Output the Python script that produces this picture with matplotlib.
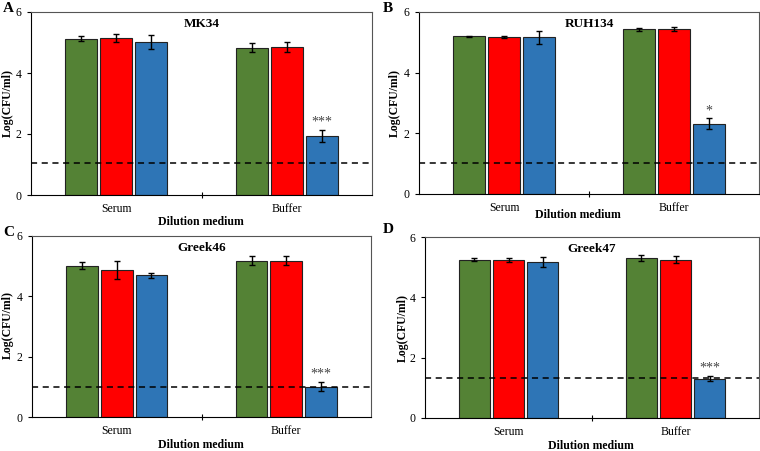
import matplotlib
matplotlib.use("Agg")
import matplotlib.pyplot as plt
import numpy as np

plt.rcParams['font.family'] = ['Liberation Serif', 'DejaVu Serif']

categories = ["Serum", "Buffer"]
series_colors = ["#548235", "#FF0000", "#2E75B6"]

panels = ["A", "B", "C", "D"]
titles = ["MK34", "RUH134", "Greek46", "Greek47"]
# values[panel][series][category]
values = {
    "A": [[5.12, 4.83], [5.14, 4.85], [5.02, 1.93]],
    "B": [[5.20, 5.43], [5.17, 5.43], [5.17, 2.32]],
    "C": [[5.02, 5.18], [4.88, 5.18], [4.70, 1.00]],
    "D": [[5.25, 5.30], [5.25, 5.25], [5.17, 1.30]],
}
errors = {
    "A": [[0.08, 0.15], [0.13, 0.16], [0.22, 0.20]],
    "B": [[0.02, 0.04], [0.04, 0.06], [0.22, 0.17]],
    "C": [[0.12, 0.15], [0.30, 0.15], [0.08, 0.15]],
    "D": [[0.06, 0.09], [0.07, 0.12], [0.17, 0.08]],
}
detection_limit = {"A": 1.04, "B": 1.01, "C": 0.99, "D": 1.31}
stars = {"A": "***", "B": "*", "C": "***", "D": "***"}
yticks = [0, 2, 4, 6]

W, H = 760, 451
fig = plt.figure(figsize=(W / 100, H / 100), dpi=100)

# axes boxes in pixels: left, top, right, bottom
boxes = {"A": (31, 12, 372, 195), "B": (419, 12, 759, 194),
         "C": (32, 236, 371, 417), "D": (425, 237, 759, 418)}
letter_pos = {"A": (8, 8), "B": (388, 8), "C": (9, 233), "D": (388, 229)}
xlabel_pos = {"A": (201, 222), "B": (578, 215), "C": (201, 445), "D": (591, 446)}
ylabel_pos = {"A": (8, 103), "B": (395, 103), "C": (8, 325), "D": (403, 328)}

offsets = [-0.205, 0.0, 0.205]
bw = 0.188

for p, title in zip(panels, titles):
    l, t, r, b = boxes[p]
    ax = fig.add_axes([l / W, 1 - b / H, (r - l) / W, (b - t) / H])
    x = np.arange(len(categories)) + 0.5
    for s in range(3):
        ax.bar(x + offsets[s], values[p][s], width=bw, color=series_colors[s],
               edgecolor="#222222", linewidth=0.8, zorder=2,
               yerr=errors[p][s], error_kw=dict(ecolor="black", elinewidth=1.0,
                                                 capsize=2.2, capthick=1.0))
    ax.axhline(detection_limit[p], color="black", linestyle=(0, (4, 3)),
               linewidth=1.1, zorder=3)
    top = values[p][2][1] + errors[p][2][1]
    ax.annotate(stars[p], (x[1] + offsets[2], top), xytext=(0, 1.0),
                textcoords="offset points", ha="center", va="bottom",
                fontsize=10, color="#444444")
    ax.set_xlim(0, 2)
    ax.set_ylim(0, 6)
    ax.set_yticks(yticks)
    ax.set_yticklabels([str(v) for v in yticks], fontsize=8.5)
    ax.set_xticks([1])
    ax.set_xticklabels([""])
    ax.set_xticks(x, categories, minor=True)
    ax.tick_params(axis="x", which="minor", length=0, labelsize=8.5, pad=6)
    ax.tick_params(axis="x", which="major", length=5, direction="inout", width=0.8)
    ax.tick_params(axis="y", length=3, direction="out", width=0.8, pad=4)
    for side in ["top", "right"]:
        ax.spines[side].set_color("#555555")
        ax.spines[side].set_linewidth(0.8)
    for side in ["left", "bottom"]:
        ax.spines[side].set_color("black")
        ax.spines[side].set_linewidth(0.8)
    ax.text(0.5, 0.965, title, transform=ax.transAxes, ha="center", va="top",
            fontsize=9.5, fontweight="bold")
    lx, ly = letter_pos[p]
    fig.text(lx / W, 1 - ly / H, p, ha="center", va="center", fontsize=11,
             fontweight="bold")
    xx, xy = xlabel_pos[p]
    fig.text(xx / W, 1 - xy / H, "Dilution medium", ha="center", va="center",
             fontsize=8.5, fontweight="bold")
    yx, yy = ylabel_pos[p]
    fig.text(yx / W, 1 - yy / H, "Log(CFU/ml)", ha="center", va="center",
             rotation=90, fontsize=8.5, fontweight="bold")

fig.savefig("out.png", dpi=100)
